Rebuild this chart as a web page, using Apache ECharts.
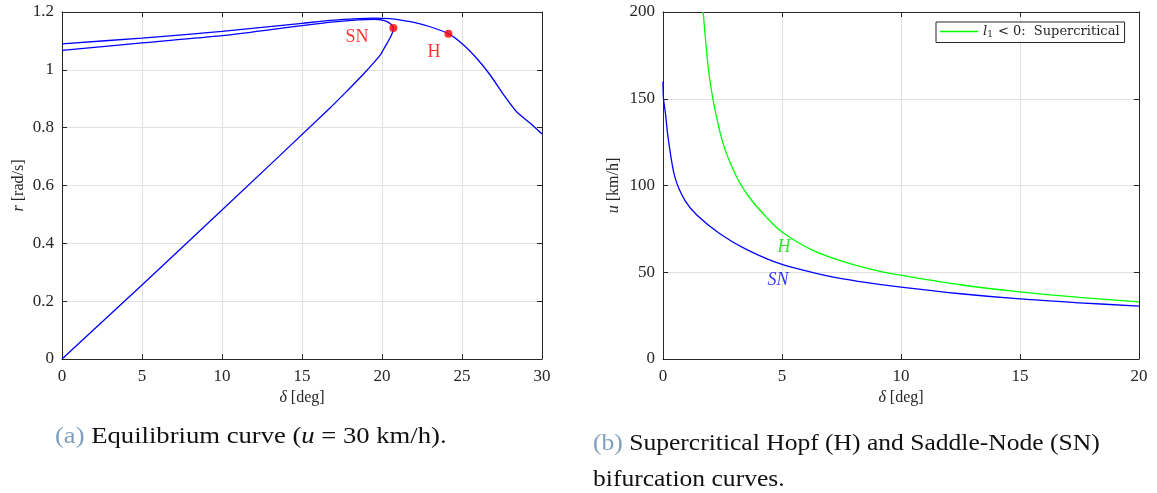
<!DOCTYPE html>
<html><head><meta charset="utf-8">
<script src="https://cdn.jsdelivr.net/npm/echarts@6/dist/echarts.min.js"></script>
<style>html,body{margin:0;padding:0;background:#fff}#c{width:1157px;height:493px}</style>
</head><body><div id="c"></div>
<script>
// ---- Panel (a): equilibrium curve (u = 30 km/h)
const branchA_delta = [0,5,10,15,17,18.5,19.5,20.1,20.4,20.6,20.71,20.65,20.5,20.2,19.9,18.8,17.8,16.75,10,5,0];
const branchA_r     = [1.067,1.093,1.118,1.153,1.166,1.173,1.175,1.171,1.164,1.155,1.145,1.128,1.110,1.081,1.052,0.983,0.926,0.868,0.515,0.256,0];
const branchB_delta = [0,5,10,15,17,18.5,19.46,20.5,21.2,22,23,24.15,25.08,25.9,26.75,27.6,28.4,29.25,30];
const branchB_r     = [1.090,1.110,1.133,1.161,1.172,1.177,1.179,1.177,1.172,1.164,1.149,1.125,1.087,1.041,0.983,0.914,0.856,0.816,0.778];
const bifPointNames = ['SN','H'];
const bifPointDelta = [20.71,24.15];
const bifPointR     = [1.145,1.125];
const bifLabelDelta = [18.44,23.25];
const bifLabelR     = [1.113,1.062];

// ---- Panel (b): bifurcation curves
const snDelta = [0,0.02,0.09,0.23,0.5,0.92,1.42,2.39,3.5,5,7,8.28,10,12.5,15,17.5,20];
const snU     = [160,150,143,126,104.8,91.4,83.0,72.2,63.2,54.5,47.6,44.6,41.4,37.6,34.6,32.4,30.5];
const hDelta  = [1.69,1.9,2.11,2.53,3.1,3.65,4.36,5,6.3,7.72,9.12,10,12.5,15,17.5,20];
const hU      = [200,168,148.9,124,104.8,92.8,81.5,73.2,62.6,55.5,50.5,48.3,42.8,38.7,35.5,32.9];
const curveLabelNames  = ['H','SN'];
const curveLabelColors = ['#00e000','#0000ff'];
const curveLabelDelta  = [5.08,4.83];
const curveLabelU      = [64.4,45.4];

const zip = (a,b) => a.map((v,i)=>[v,b[i]]);
const FONT = 'Liberation Serif';
const AX = '#262626';
const GRIDC = '#e0e0e0';

function nameStyle(){
  return {color:AX,fontFamily:FONT,fontSize:16,rich:{i:{fontStyle:'italic',fontFamily:FONT,fontSize:16,color:AX}}};
}
function mainX(idx, min, max, interval){
  return {type:'value', gridIndex:idx, min, max, interval, position:'bottom',
    axisLine:{show:true,onZero:false,lineStyle:{color:AX,width:1}},
    axisTick:{show:true,inside:true,length:5,lineStyle:{color:AX}},
    axisLabel:{color:AX,fontFamily:FONT,fontSize:17,margin:9},
    splitLine:{show:true,lineStyle:{color:GRIDC,width:1}},
    name:'{i|δ} [deg]', nameLocation:'middle', nameGap:30, nameTextStyle:nameStyle()};
}
function mirrorX(idx, min, max, interval){
  return {type:'value', gridIndex:idx, min, max, interval, position:'top',
    axisLine:{show:true,onZero:false,lineStyle:{color:AX,width:1}},
    axisTick:{show:true,inside:true,length:5,lineStyle:{color:AX}},
    axisLabel:{show:false}, splitLine:{show:false}};
}
function mainY(idx, min, max, interval, name, gap){
  return {type:'value', gridIndex:idx, min, max, interval, position:'left',
    axisLine:{show:true,onZero:false,lineStyle:{color:AX,width:1}},
    axisTick:{show:true,inside:true,length:5,lineStyle:{color:AX}},
    axisLabel:{color:AX,fontFamily:FONT,fontSize:17,margin:8},
    splitLine:{show:true,lineStyle:{color:GRIDC,width:1}},
    name, nameLocation:'middle', nameGap:gap, nameTextStyle:nameStyle()};
}
function mirrorY(idx, min, max, interval){
  return {type:'value', gridIndex:idx, min, max, interval, position:'right',
    axisLine:{show:true,onZero:false,lineStyle:{color:AX,width:1}},
    axisTick:{show:true,inside:true,length:5,lineStyle:{color:AX}},
    axisLabel:{show:false}, splitLine:{show:false}};
}

const chart = echarts.init(document.getElementById('c'), null, {renderer:'canvas'});
chart.setOption({
  animation:false,
  backgroundColor:'#fff',
  grid:[
    {left:62, top:12, width:480, height:347},
    {left:663, top:12, width:476, height:347}
  ],
  xAxis:[ mainX(0,0,30,5), mirrorX(0,0,30,5), mainX(1,0,20,5), mirrorX(1,0,20,5) ],
  yAxis:[ mainY(0,0,1.2,0.2,'{i|r} [rad/s]',35), mirrorY(0,0,1.2,0.2),
          mainY(1,0,200,50,'{i|u} [km/h]',41), mirrorY(1,0,200,50) ],
  legend:{
    data:['H'], left:936, top:22, orient:'horizontal',
    borderColor:AX, borderWidth:1, backgroundColor:'#fff', borderRadius:0,
    padding:[3,5,3,4], itemWidth:38, itemHeight:1.5, itemGap:4, icon:'rect',
    formatter:()=> '{i|l}{s|1}< 0:  Supercritical',
    textStyle:{color:AX,fontFamily:'DejaVu Serif',fontSize:13,
      rich:{i:{fontStyle:'italic',fontFamily:'DejaVu Serif',fontSize:13,color:AX},
            s:{fontFamily:'DejaVu Serif',fontSize:9,color:AX,verticalAlign:'bottom',padding:[7,5,0,0]}}}
  },
  series:[
    {type:'line', name:'eqA', xAxisIndex:0, yAxisIndex:0, data:zip(branchA_delta,branchA_r),
     symbol:'none', smooth:0.25, lineStyle:{color:'#0000ff',width:1.3}, z:3},
    {type:'line', name:'eqB', xAxisIndex:0, yAxisIndex:0, data:zip(branchB_delta,branchB_r),
     symbol:'none', smooth:0.25, lineStyle:{color:'#0000ff',width:1.3}, z:3},
    {type:'scatter', name:'bif', xAxisIndex:0, yAxisIndex:0, data:zip(bifPointDelta,bifPointR),
     symbol:'circle', symbolSize:8, itemStyle:{color:'#ff0000'}, z:5},
    {type:'scatter', name:'bifLabels', xAxisIndex:0, yAxisIndex:0,
     data:bifLabelDelta.map((d,i)=>({value:[d,bifLabelR[i]], name:bifPointNames[i]})),
     symbolSize:0, label:{show:true, position:'inside', formatter:p=>p.name, color:'#ff0000', fontFamily:FONT, fontSize:18}, z:6},
    {type:'line', name:'SN', xAxisIndex:2, yAxisIndex:2, data:zip(snDelta,snU),
     symbol:'none', smooth:0.3, lineStyle:{color:'#0000ff',width:1.3}, itemStyle:{color:'#0000ff'}, z:3},
    {type:'line', name:'H', xAxisIndex:2, yAxisIndex:2, data:zip(hDelta,hU),
     symbol:'none', smooth:0.3, lineStyle:{color:'#00ff00',width:1.3}, itemStyle:{color:'#00ff00'}, z:3},
    {type:'scatter', name:'curveLabels', xAxisIndex:2, yAxisIndex:2,
     data:curveLabelDelta.map((d,i)=>({value:[d,curveLabelU[i]], name:curveLabelNames[i],
        label:{color:curveLabelColors[i]}})),
     symbolSize:0, label:{show:true, position:'inside', formatter:p=>p.name,
       fontFamily:FONT, fontStyle:'italic', fontSize:18}, z:6}
  ],
  graphic:[
    {type:'text', x:55, y:425, scaleX:1.11, style:{
      text:'{c|(a)} Equilibrium curve ({i|u} = 30 km/h).',
      fill:'#111', font:'24px "Liberation Serif"',
      rich:{c:{fill:'#7f9fbf',fontFamily:FONT,fontSize:24}, i:{fontStyle:'italic',fontFamily:FONT,fontSize:24,fill:'#111'}}}},
    {type:'text', x:593, y:426, scaleX:1.065, style:{
      text:'{c|(b)} Supercritical Hopf (H) and Saddle-Node (SN)\nbifurcation curves.',
      fill:'#111', font:'24px "Liberation Serif"', lineHeight:36,
      rich:{c:{fill:'#7f9fbf',fontFamily:FONT,fontSize:24}}}}
  ]
});
</script></body></html>
